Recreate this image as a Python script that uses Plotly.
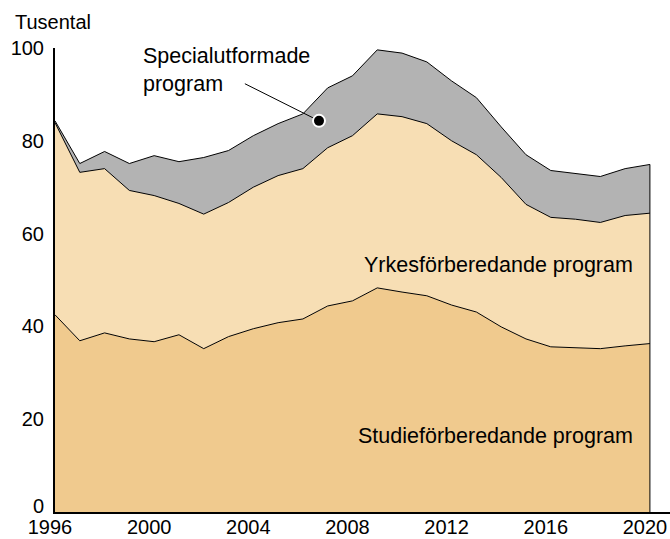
import plotly.graph_objects as go

years = list(range(1996, 2021))
studie = [42.5, 36.9, 38.6, 37.3, 36.7, 38.2, 35.2, 37.8, 39.5, 40.8, 41.6, 44.4, 45.5,
          48.3, 47.4, 46.6, 44.6, 43.1, 39.9, 37.3, 35.6, 35.4, 35.2, 35.8, 36.3]
yrkes = [41.4, 36.3, 35.4, 32.0, 31.5, 28.3, 29.0, 28.9, 30.5, 31.7, 32.4, 34.1, 35.6,
         37.5, 37.8, 37.1, 35.4, 33.9, 32.2, 29.0, 27.9, 27.7, 27.2, 28.1, 28.1]
special = [0.4, 1.9, 3.7, 5.8, 8.6, 9.0, 12.2, 11.2, 11.1, 11.2, 11.8, 12.9, 12.9,
           13.8, 13.7, 13.3, 12.9, 12.3, 10.9, 10.7, 10.1, 9.9, 9.9, 10.1, 10.5]
tick_years = [1996, 2000, 2004, 2008, 2012, 2016, 2020]
y_ticks = [20, 40, 60, 80, 100]
y_zero_label = "0"

FONT = "Liberation Sans, Arial, sans-serif"

fig = go.Figure()
series = [
    ("Studieförberedande program", studie, "#F0CA8E"),
    ("Yrkesförberedande program", yrkes, "#F7DEB4"),
    ("Specialutformade program", special, "#B3B3B3"),
]
for name, vals, col in series:
    fig.add_trace(go.Scatter(
        x=years, y=vals, name=name, stackgroup="one", mode="lines",
        line=dict(color="black", width=1), fillcolor=col, hoverinfo="skip",
    ))

total_last = studie[-1] + yrkes[-1] + special[-1]
fig.add_trace(go.Scatter(
    x=[years[-1], years[-1]], y=[0, total_last], mode="lines",
    line=dict(color="black", width=1), hoverinfo="skip", showlegend=False,
))

# pointer line + marker for Specialutformade program
fig.add_trace(go.Scatter(
    x=[2003.66, 2006.65], y=[92.3, 84.3], mode="lines",
    line=dict(color="black", width=1), hoverinfo="skip", showlegend=False,
))
fig.add_trace(go.Scatter(
    x=[2006.65], y=[84.3], mode="markers",
    marker=dict(color="black", size=12, line=dict(color="white", width=2)),
    hoverinfo="skip", showlegend=False,
))

fig.update_layout(
    width=670, height=539,
    margin=dict(l=55, r=0, t=48, b=27),
    paper_bgcolor="white", plot_bgcolor="white",
    showlegend=False,
    font=dict(family=FONT, size=20, color="black"),
    xaxis=dict(range=[1996, 2020.81], tickvals=tick_years, showgrid=False, zeroline=False,
               showline=True, linecolor="black", linewidth=2, ticks="", automargin=False,
               ticklabelshift=-5, ticklabelstandoff=-4, fixedrange=True),
    yaxis=dict(range=[0, 100], tickvals=y_ticks, showgrid=False, zeroline=False,
               showline=True, linecolor="black", linewidth=2, ticks="", automargin=False,
               ticklabelstandoff=5, fixedrange=True),
    annotations=[
        dict(text=y_zero_label, xref="paper", yref="y", x=-9/615, y=0, yshift=6,
             xanchor="right", yanchor="middle", showarrow=False, font=dict(size=20)),
        dict(text="Tusental", xref="paper", yref="paper", x=-42/615, y=1 + 26/464,
             xanchor="left", yanchor="middle", showarrow=False, font=dict(size=20)),
        dict(text="Specialutformade<br>program", xref="x", yref="y", x=1999.47, y=95.3,
             xanchor="left", yanchor="middle", align="left", showarrow=False,
             font=dict(size=21.5)),
        dict(text="Yrkesförberedande program", xref="x", yref="y", x=2019.4, y=53.3,
             xanchor="right", yanchor="middle", showarrow=False, font=dict(size=21.5)),
        dict(text="Studieförberedande program", xref="x", yref="y", x=2019.4, y=16.3,
             xanchor="right", yanchor="middle", showarrow=False, font=dict(size=21.5)),
    ],
)

fig.write_html("out.html", config={"displayModeBar": False},
               post_script="document.body.style.margin='0px';")
